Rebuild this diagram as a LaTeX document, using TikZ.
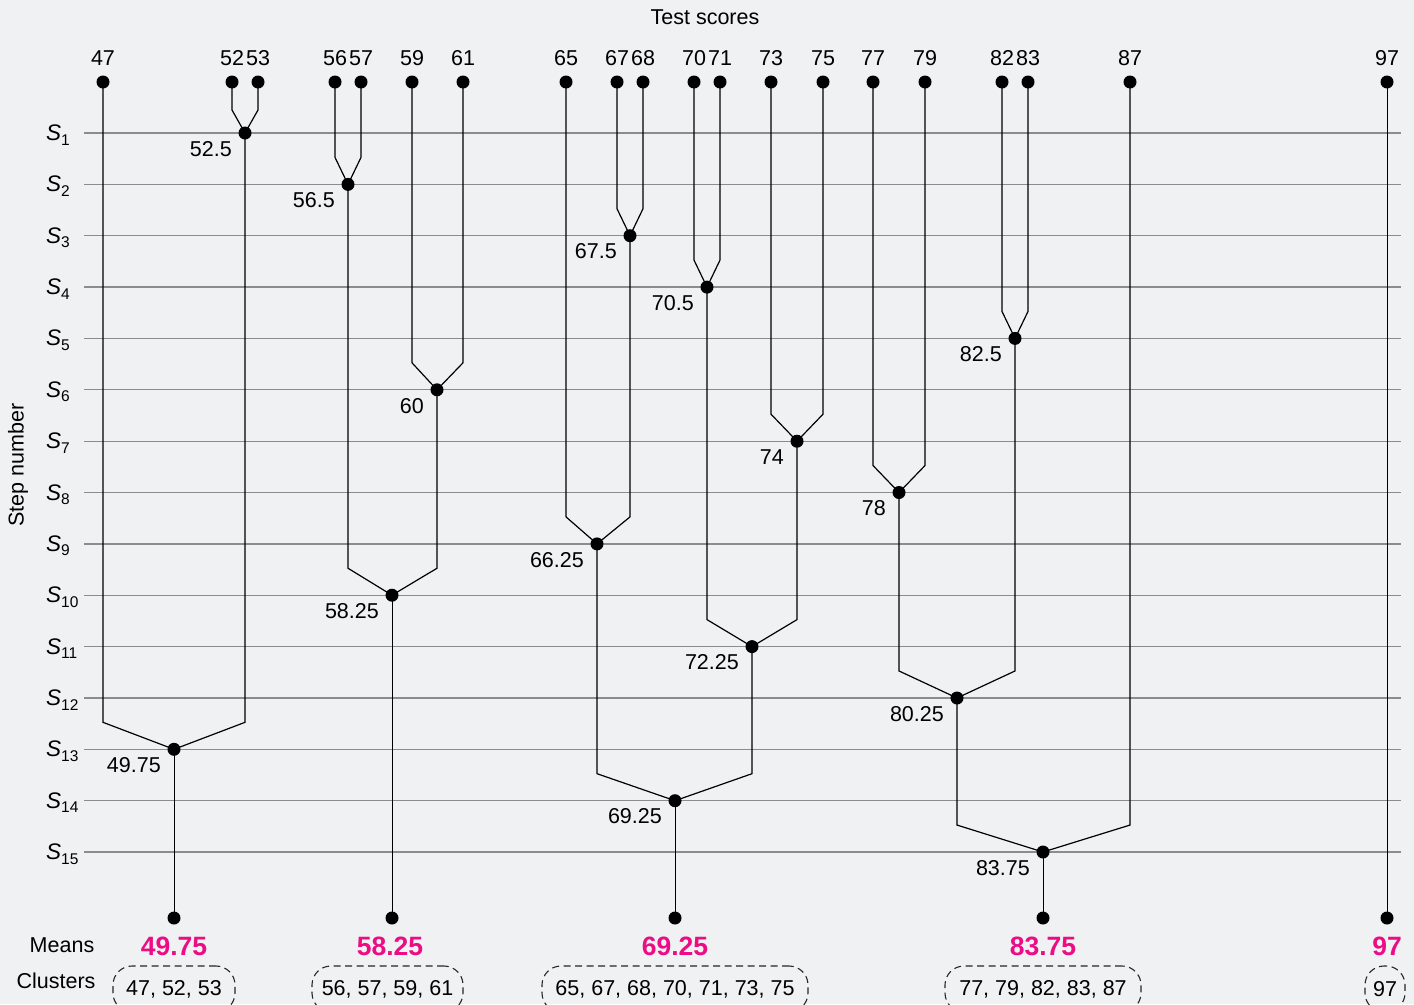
\documentclass[tikz,border=0pt]{standalone}
\usepackage{fontspec}
\setmainfont{Liberation Sans}
\definecolor{bgc}{HTML}{F0F1F3}
\definecolor{gridc}{HTML}{8C8C8C}
\definecolor{meanc}{HTML}{EC0C84}
\begin{document}
\begin{tikzpicture}[x=1bp,y=-1bp,
  dot/.style={circle,fill=black,inner sep=0pt,minimum size=13bp},
  lbl/.style={font=\fontsize{21.5bp}{25bp}\selectfont,inner sep=0pt},
  mlbl/.style={lbl,anchor=north east},
  stepline/.style={draw=gridc,line width=1.3bp},
  tree/.style={draw=black,line width=1.2bp},
  stem/.style={draw=black,line width=1bp},
  meanlbl/.style={font=\fontsize{26.5bp}{30bp}\selectfont\bfseries,text=meanc,inner sep=0pt},
  clbox/.style={draw=black!85,dash pattern=on 7bp off 4.5bp,line width=1.1bp,rounded corners=19bp,minimum height=46bp,inner sep=0pt,font=\fontsize{21.5bp}{25bp}\selectfont},
  slbl/.style={inner sep=0pt,anchor=west}
]
\newcommand{\steplab}[1]{{\fontsize{22.5bp}{24bp}\selectfont\itshape S}\raisebox{-0.45em}{\fontsize{15.5bp}{16bp}\selectfont #1}}
\fill[bgc] (0,0) rectangle (1414,1004);
\useasboundingbox (0,0) rectangle (1414,1004);

% title and axis labels
\node[lbl] (title) at (705,17) {Test scores};
\node[lbl,rotate=90] (stepnum) at (18,465) {Step number};

% step lines and labels
\foreach \i in {1,...,15} {
  \pgfmathsetmacro{\yy}{133+(\i-1)*51.36}
  \draw[stepline] (84,\yy) -- (1401,\yy);
  \node[slbl] (s\i) at (46,\yy+2) {\steplab{\i}};
}

% top scores
\foreach \v/\x in {47/103,52/232,53/258,56/335,57/361,59/412,61/463,65/566,67/617,68/643,70/694,71/720,73/771,75/823,77/873,79/925,82/1002,83/1028,87/1130,97/1387} {
  \node[dot] (t\v) at (\x,82) {};
  \node[lbl] (n\v) at (\x,58) {\v};
}

% merge nodes
\node[dot] (m1)  at (245,133.0) {};
\node[dot] (m2)  at (348,184.4) {};
\node[dot] (m3)  at (630,235.7) {};
\node[dot] (m4)  at (707,287.1) {};
\node[dot] (m5)  at (1015,338.4) {};
\node[dot] (m6)  at (437,389.8) {};
\node[dot] (m7)  at (797,441.2) {};
\node[dot] (m8)  at (899,492.5) {};
\node[dot] (m9)  at (597,543.9) {};
\node[dot] (m10) at (392,595.2) {};
\node[dot] (m11) at (752,646.6) {};
\node[dot] (m12) at (957,698.0) {};
\node[dot] (m13) at (174,749.3) {};
\node[dot] (m14) at (675,800.7) {};
\node[dot] (m15) at (1043,852.0) {};

% merge value labels
\foreach \m/\t in {m1/52.5,m2/56.5,m3/67.5,m4/70.5,m5/82.5,m6/60,m7/74,m8/78,m9/66.25,m10/58.25,m11/72.25,m12/80.25,m13/49.75,m14/69.25,m15/83.75} {
  \node[mlbl] (l\m) at ([xshift=-13bp,yshift=-8bp]\m.center) {\t};
}

% knee coordinates
\coordinate (k1) at (0,110);
\foreach \i in {2,...,15} {
  \pgfmathsetmacro{\ky}{133+(\i-1)*51.36-27}
  \coordinate (k\i) at (0,\ky);
}

% connectors: child, child, merge, knee
\foreach \a/\b/\m/\k in {t52/t53/m1/k1, t56/t57/m2/k2, t67/t68/m3/k3, t70/t71/m4/k4,
  t82/t83/m5/k5, t59/t61/m6/k6, t73/t75/m7/k7, t77/t79/m8/k8, t65/m3/m9/k9,
  m2/m6/m10/k10, m4/m7/m11/k11, m8/m5/m12/k12, t47/m1/m13/k13, m9/m11/m14/k14, m12/t87/m15/k15} {
  \draw[tree] (\a.center) -- (\a.center |- \k) -- (\m.center) -- (\b.center |- \k) -- (\b.center);
}

% bottom dots
\node[dot] (b1) at (174,918) {};
\node[dot] (b2) at (392,918) {};
\node[dot] (b3) at (675,918) {};
\node[dot] (b4) at (1043,918) {};
\node[dot] (b5) at (1387,918) {};
\draw[stem] (m13.center) -- (b1.center);
\draw[stem] (m10.center) -- (b2.center);
\draw[stem] (m14.center) -- (b3.center);
\draw[stem] (m15.center) -- (b4.center);
\draw[stem] (t97.center) -- (b5.center);

% means
\node[lbl] (meanslbl) at (62,945) {Means};
\node[meanlbl] (mean1) at (174,946) {49.75};
\node[meanlbl] (mean2) at (390,946) {58.25};
\node[meanlbl] (mean3) at (675,946) {69.25};
\node[meanlbl] (mean4) at (1043,946) {83.75};
\node[meanlbl] (mean5) at (1387,946) {97};

% clusters
\node[lbl] (clusterslbl) at (56,981) {Clusters};
\node[clbox,minimum width=122bp] (c1) at (174,989) {47, 52, 53};
\node[clbox,minimum width=151bp] (c2) at (387.5,989) {56, 57, 59, 61};
\node[clbox,minimum width=266bp] (c3) at (675,989) {65, 67, 68, 70, 71, 73, 75};
\node[clbox,minimum width=196bp] (c4) at (1043,989) {77, 79, 82, 83, 87};
\node[clbox,minimum width=40bp,rounded corners=19bp] (c5) at (1385,989) {97};
\end{tikzpicture}
\end{document}
